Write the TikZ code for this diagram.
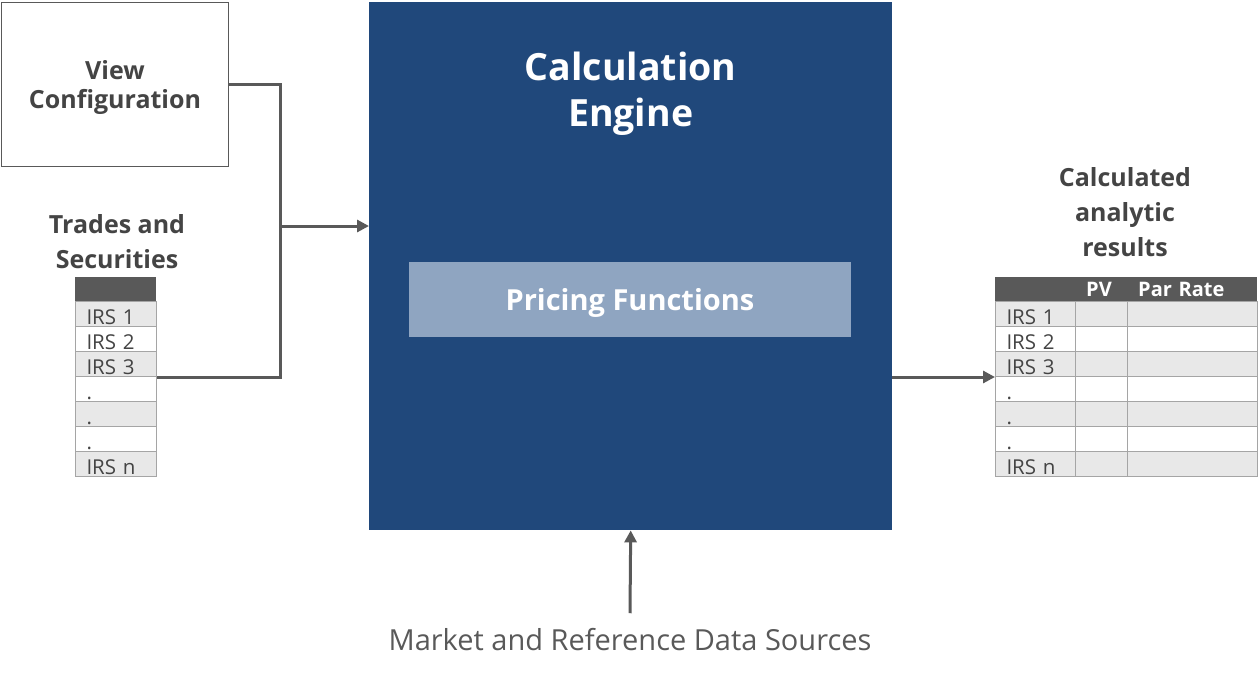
\documentclass[tikz,border=0pt]{standalone}
\usepackage{fontspec}
\setmainfont{Open Sans}
\usetikzlibrary{arrows.meta,positioning}
\definecolor{enginebg}{RGB}{32,72,123}
\definecolor{pricebg}{RGB}{143,165,193}
\definecolor{linegray}{RGB}{89,89,89}
\definecolor{rowgray}{RGB}{232,232,232}
\definecolor{cellline}{RGB}{165,165,165}
\definecolor{textgray}{RGB}{68,68,68}

\tikzset{
  boxtext/.style={text=textgray, align=center, font=\bfseries\fontsize{25}{35}\selectfont},
  cell/.style={draw=cellline, line width=1pt, minimum height=25pt, inner xsep=11pt, inner ysep=0pt,
    text height=20pt, text depth=0pt, anchor=north west, align=left, text=textgray,
    font=\fontsize{20.5}{20.5}\selectfont},
  headcell/.style={fill=linegray, minimum height=24pt, inner xsep=11pt, inner ysep=0pt, anchor=north west,
    align=left, text=white, font=\bfseries\fontsize{20}{20}\selectfont},
  flow/.style={draw=linegray, line width=3pt},
  flowarrow/.style={flow, -{Triangle[length=12pt,width=12pt]}}
}

\begin{document}
\begin{tikzpicture}[x=1pt,y=-1pt]
  \useasboundingbox (0,0) rectangle (1258,686);
  \node[draw=linegray, line width=1pt, minimum width=227pt, minimum height=164pt, anchor=north west,
    text=textgray, align=center, text depth=0pt, font=\bfseries\fontsize{25}{29}\selectfont] (view) at (1,2) {View\\Configuration};
  \node[boxtext] (trades) at (117,242) {Trades and\\Securities};
  \node[boxtext] (results) at (1125,212) {Calculated\\analytic\\results};

  \node[fill=enginebg, minimum width=523pt, minimum height=528pt, inner sep=0pt, anchor=north west] (engine) at (369,2) {};
  \node[text=white, align=center, font=\bfseries\fontsize{37.5}{46}\selectfont] (title) at ([yshift=-92pt]engine.north) {Calculation\\Engine};
  \node[fill=pricebg, minimum width=442pt, minimum height=75pt, text depth=0pt, text=white,
    font=\bfseries\fontsize{29}{29}\selectfont] (pricing) at (630,299.5) {Pricing Functions};

  \node[headcell, text width=59pt] (tradehead) at (75,277) {};
  \node[headcell, text width=58pt] (reshead) at (995,277) {};
  \node[headcell, text width=30pt] (pvhead) at (1075,277) {PV};
  \node[headcell, text width=108pt] (parhead) at (1127,277) {Par Rate};
  \foreach \txt [count=\i] in {IRS 1,IRS 2,IRS 3,.,.,.,IRS n} {
    \ifodd\i \def\rowfill{rowgray}\else\def\rowfill{white}\fi
    \node[cell, fill=\rowfill, text width=59pt] (trade\i) at (75,{301+25*(\i-1)}) {\txt};
    \node[cell, fill=\rowfill, text width=58pt] (res\i) at (995,{301+25*(\i-1)}) {\txt};
    \node[cell, fill=\rowfill, text width=30pt] (pv\i) at (1075,{301+25*(\i-1)}) {};
    \node[cell, fill=\rowfill, text width=108pt] (par\i) at (1127,{301+25*(\i-1)}) {};
  }

  \node[text=linegray, font=\fontsize{29}{29}\selectfont] (market) at (630,640) {Market and Reference Data Sources};

  \coordinate (join) at (280,226);
  \draw[flow] (view.east) -| (join) |- (trade3.south east);
  \draw[flowarrow] (join) -- (join -| engine.west);
  \draw[flowarrow] (engine.east |- res3.south west) -- (res3.south west);
  \draw[flowarrow] ([yshift=12pt]market.north) -- (engine.south);
\end{tikzpicture}
\end{document}
